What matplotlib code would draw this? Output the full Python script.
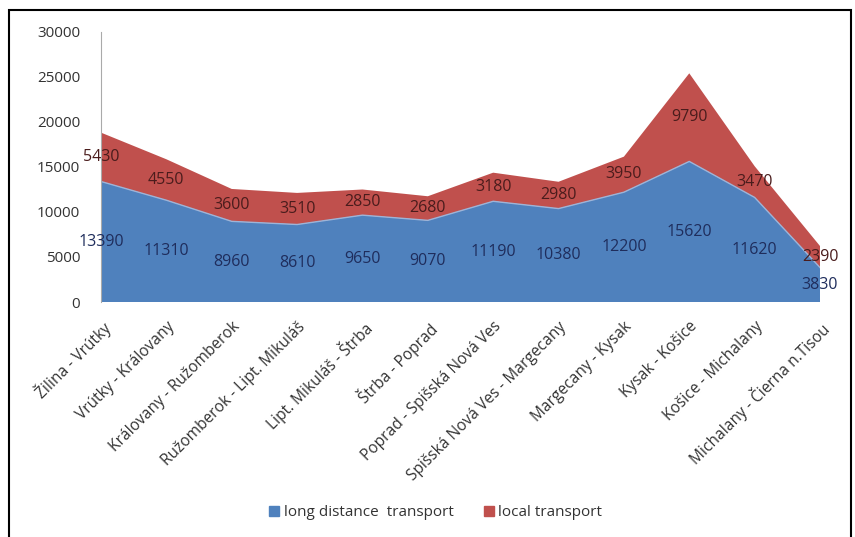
import matplotlib
matplotlib.use("Agg")
import matplotlib.pyplot as plt
from matplotlib.patches import Rectangle
from matplotlib.lines import Line2D
import numpy as np

categories = ["Žilina - Vrútky", "Vrútky - Královany", "Královany - Ružomberok",
              "Ružomberok - Lipt. Mikuláš", "Lipt. Mikuláš - Štrba", "Štrba - Poprad",
              "Poprad - Spišská Nová Ves", "Spišská Nová Ves - Margecany",
              "Margecany - Kysak", "Kysak - Košice", "Košice - Michalany",
              "Michalany - Čierna n.Tisou"]
long_distance = [13390, 11310, 8960, 8610, 9650, 9070, 11190, 10380, 12200, 15620, 11620, 3830]
local = [5430, 4550, 3600, 3510, 2850, 2680, 3180, 2980, 3950, 9790, 3470, 2390]
yticks = [0, 5000, 10000, 15000, 20000, 25000, 30000]

plt.rcParams['font.family'] = ['Open Sans', 'DejaVu Sans']

blue = '#4F81BD'
red = '#C0504D'

fig = plt.figure(figsize=(8.55, 5.37), dpi=100)
ax = fig.add_axes([101/855, 1-302/537, (820-101)/855, 270/537])

x = np.arange(len(categories))
ld = np.array(long_distance)
lc = np.array(local)
ax.stackplot(x, ld, lc, colors=[blue, red], edgecolor='none')
ax.plot(x, ld, color='#9db4d8', lw=1.0)

ax.set_xlim(0, len(categories)-1)
ax.set_ylim(0, 30000)
ax.set_yticks(yticks)
ax.set_yticklabels([str(v) for v in yticks], fontsize=11, color='#333333')
ax.set_xticks(x)
ax.set_xticklabels(categories, rotation=45, ha='right', rotation_mode='anchor',
                   fontsize=11.2, color='#333333')
ax.tick_params(axis='y', length=0, pad=15)
ax.tick_params(axis='x', length=0, pad=12)
for s in ['top', 'right', 'bottom']:
    ax.spines[s].set_visible(False)
ax.spines['left'].set_color('#aaaaaa')
ax.spines['left'].set_linewidth(0.8)

for i in range(len(categories)):
    ax.text(x[i], ld[i]/2, str(ld[i]), ha='center', va='center', fontsize=11.5,
            color='#1f2d5c')
    ax.text(x[i], ld[i] + lc[i]/2, str(lc[i]), ha='center', va='center', fontsize=11.5,
            color='#4a1c1c')

handles = [Line2D([], [], marker='s', color='none', markerfacecolor=blue,
                  markeredgecolor=blue, markersize=7),
           Line2D([], [], marker='s', color='none', markerfacecolor=red,
                  markeredgecolor=red, markersize=7)]
fig.legend(handles, ['long distance  transport', 'local transport'], loc='center',
           bbox_to_anchor=(0.508, 0.045), ncol=2, frameon=False, fontsize=11,
           handletextpad=0.1, columnspacing=1.8, handlelength=1.0,
           labelcolor='#333333')

fig.add_artist(Rectangle((9/855, -0.01), (851-9)/855, 1-10/537+0.01,
                         transform=fig.transFigure, fill=False,
                         edgecolor='black', lw=1.5))

fig.savefig('out.png', dpi=100)
